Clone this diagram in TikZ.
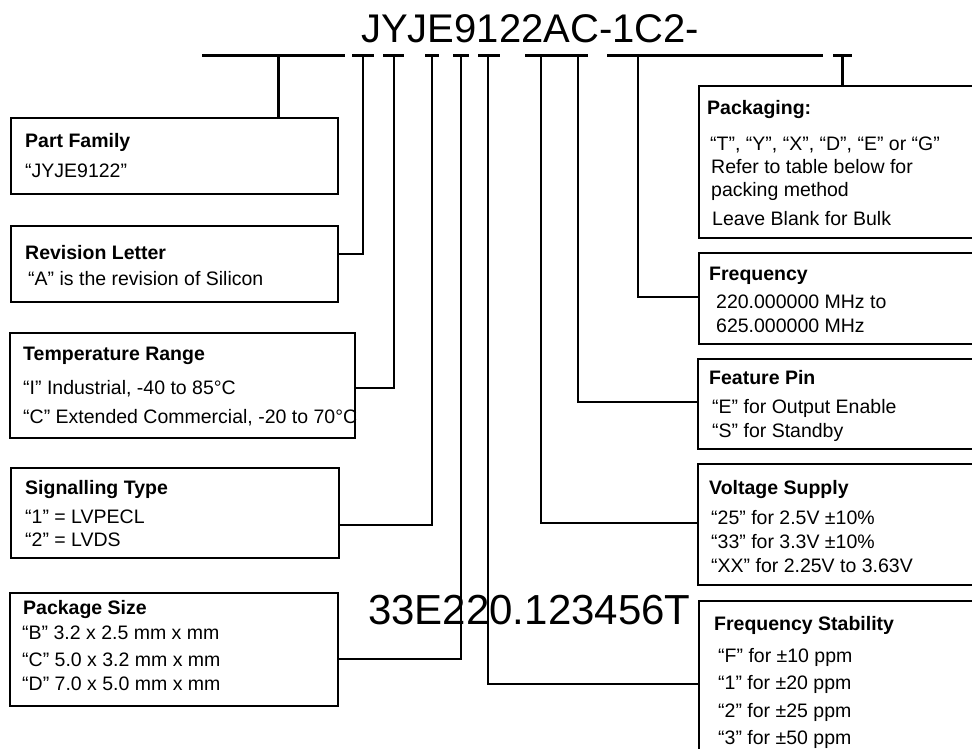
\documentclass[tikz,border=0pt]{standalone}
\usepackage{fontspec}
\setmainfont{Liberation Sans}
\begin{document}
\begin{tikzpicture}[x=1pt,y=-1pt,
  box/.style={draw, line width=2pt, anchor=north west, inner sep=0pt},
  txt/.style={anchor=base west, inner sep=0pt, font=\fontsize{19.5}{23}\selectfont},
  hd/.style={anchor=base west, inner sep=0pt, font=\bfseries\fontsize{19.5}{23}\selectfont},
  big/.style={anchor=base west, inner sep=0pt, font=\fontsize{40}{48}\selectfont},
  bar/.style={line width=3pt},
  con/.style={line width=2.2pt},
  thin/.style={line width=1.8pt}]
\useasboundingbox (0,0) rectangle (972,748);
\clip (0,0) rectangle (972,748);

% part numbers
\node[big] (pn) at (361,42) {JYJE9122AC-1C2-};
\node[big, font=\fontsize{42}{50}\selectfont] (ex) at (368,624) {33E220.123456T};

% boxes (left)
\node[box, minimum width=327pt, minimum height=76pt] (pf) at (10,117) {};
\node[box, minimum width=327pt, minimum height=76pt] (rev) at (10,225) {};
\node[box, minimum width=345pt, minimum height=105pt] (temp) at (9,332) {};
\node[box, minimum width=328pt, minimum height=90pt] (sig) at (10,467) {};
\node[box, minimum width=328pt, minimum height=113pt] (pkg) at (9,592) {};
% boxes (right)
\node[box, minimum width=290pt, minimum height=152pt] (pack) at (698,85) {};
\node[box, minimum width=290pt, minimum height=91pt] (freq) at (698,252) {};
\node[box, minimum width=290pt, minimum height=90pt] (feat) at (697,358) {};
\node[box, minimum width=290pt, minimum height=121pt] (volt) at (697,463) {};
\node[box, minimum width=290pt, minimum height=168pt] (fstab) at (698,600) {};

% box texts
\node[hd] (pfa) at (25,147) {Part Family};
\node[txt] (pfb) at (25,177) {“JYJE9122”};
\node[hd] (reva) at (25,259) {Revision Letter};
\node[txt] (revb) at (28,285) {“A” is the revision of Silicon};
\node[hd] (tempa) at (23,360) {Temperature Range};
\node[txt] (tempb) at (23,394) {“I” Industrial, -40 to 85°C};
\node[txt] (tempc) at (23,423) {“C” Extended Commercial, -20 to 70°C};
\node[hd] (siga) at (25,494) {Signalling Type};
\node[txt] (sigb) at (25,523) {“1” = LVPECL};
\node[txt] (sigc) at (25,546) {“2” = LVDS};
\node[hd] (pkga) at (23,614) {Package Size};
\node[txt] (pkgb) at (22,639) {“B” 3.2 x 2.5 mm x mm};
\node[txt] (pkgc) at (22,666) {“C” 5.0 x 3.2 mm x mm};
\node[txt] (pkgd) at (22,690) {“D” 7.0 x 5.0 mm x mm};

\node[hd] (packa) at (707,114) {Packaging:};
\node[txt] (packb) at (710,150) {“T”, “Y”, “X”, “D”, “E” or “G”};
\node[txt] (packc) at (711,173) {Refer to table below for};
\node[txt] (packd) at (711,196) {packing method};
\node[txt] (packe) at (712,225) {Leave Blank for Bulk};
\node[hd] (freqa) at (709,280) {Frequency};
\node[txt] (freqb) at (716,308) {220.000000 MHz to};
\node[txt] (freqc) at (716,332) {625.000000 MHz};
\node[hd] (feata) at (709,384) {Feature Pin};
\node[txt] (featb) at (712,413) {“E” for Output Enable};
\node[txt] (featc) at (712,437) {“S” for Standby};
\node[hd] (volta) at (709,494) {Voltage Supply};
\node[txt] (voltb) at (711,524) {“25” for 2.5V ±10\%};
\node[txt] (voltc) at (711,548) {“33” for 3.3V ±10\%};
\node[txt] (voltd) at (711,572) {“XX” for 2.25V to 3.63V};
\node[hd] (fstaba) at (714,630) {Frequency Stability};
\node[txt] (fstabb) at (718,662) {“F” for ±10 ppm};
\node[txt] (fstabc) at (718,689) {“1” for ±20 ppm};
\node[txt] (fstabd) at (718,717) {“2” for ±25 ppm};
\node[txt] (fstabe) at (718,744) {“3” for ±50 ppm};

% top bar segments
\foreach \a/\b/\n in {202/345/1, 352/374/2, 383/404/3, 425/439/4, 453/469/5, 478/500/6, 525/588/7, 607/823/8, 833/852/9}
  \draw[bar] (\a,55) coordinate (sa\n) -- (\b,55) coordinate (sb\n);

% connector tops
\coordinate (vpf) at (278,55);
\coordinate (vrev) at (363,55);
\coordinate (vtemp) at (394,55);
\coordinate (vsig) at (432,55);
\coordinate (vpkg) at (461,55);
\coordinate (vfstab) at (488,55);
\coordinate (vvolt) at (541,55);
\coordinate (vfeat) at (578,55);
\coordinate (vfreq) at (638,55);
\coordinate (vpack) at (842,55);
% elbows
\coordinate (erev) at (363,254);
\coordinate (etemp) at (394,388);
\coordinate (esig) at (432,525);
\coordinate (epkg) at (461,659);
\coordinate (efstab) at (488,684);
\coordinate (evolt) at (541,523);
\coordinate (efeat) at (578,402);
\coordinate (efreq) at (638,297);

\draw[bar] (vpf) -- (vpf |- pf.north);
\draw[bar] (vpack) -- (vpack |- pack.north);
\draw[con] (vrev) -- (erev) -- (erev -| rev.east);
\draw[con] (vtemp) -- (etemp) -- (etemp -| temp.east);
\draw[con] (vsig) -- (esig) -- (esig -| sig.east);
\draw[con] (vpkg) -- (epkg) -- (epkg -| pkg.east);
\draw[con] (vfstab) -- (efstab) -- (efstab -| fstab.west);
\draw[con] (vvolt) -- (evolt) -- (evolt -| volt.west);
\draw[con] (vfeat) -- (efeat) -- (efeat -| feat.west);
\draw[con] (vfreq) -- (efreq) -- (efreq -| freq.west);
\end{tikzpicture}
\end{document}
